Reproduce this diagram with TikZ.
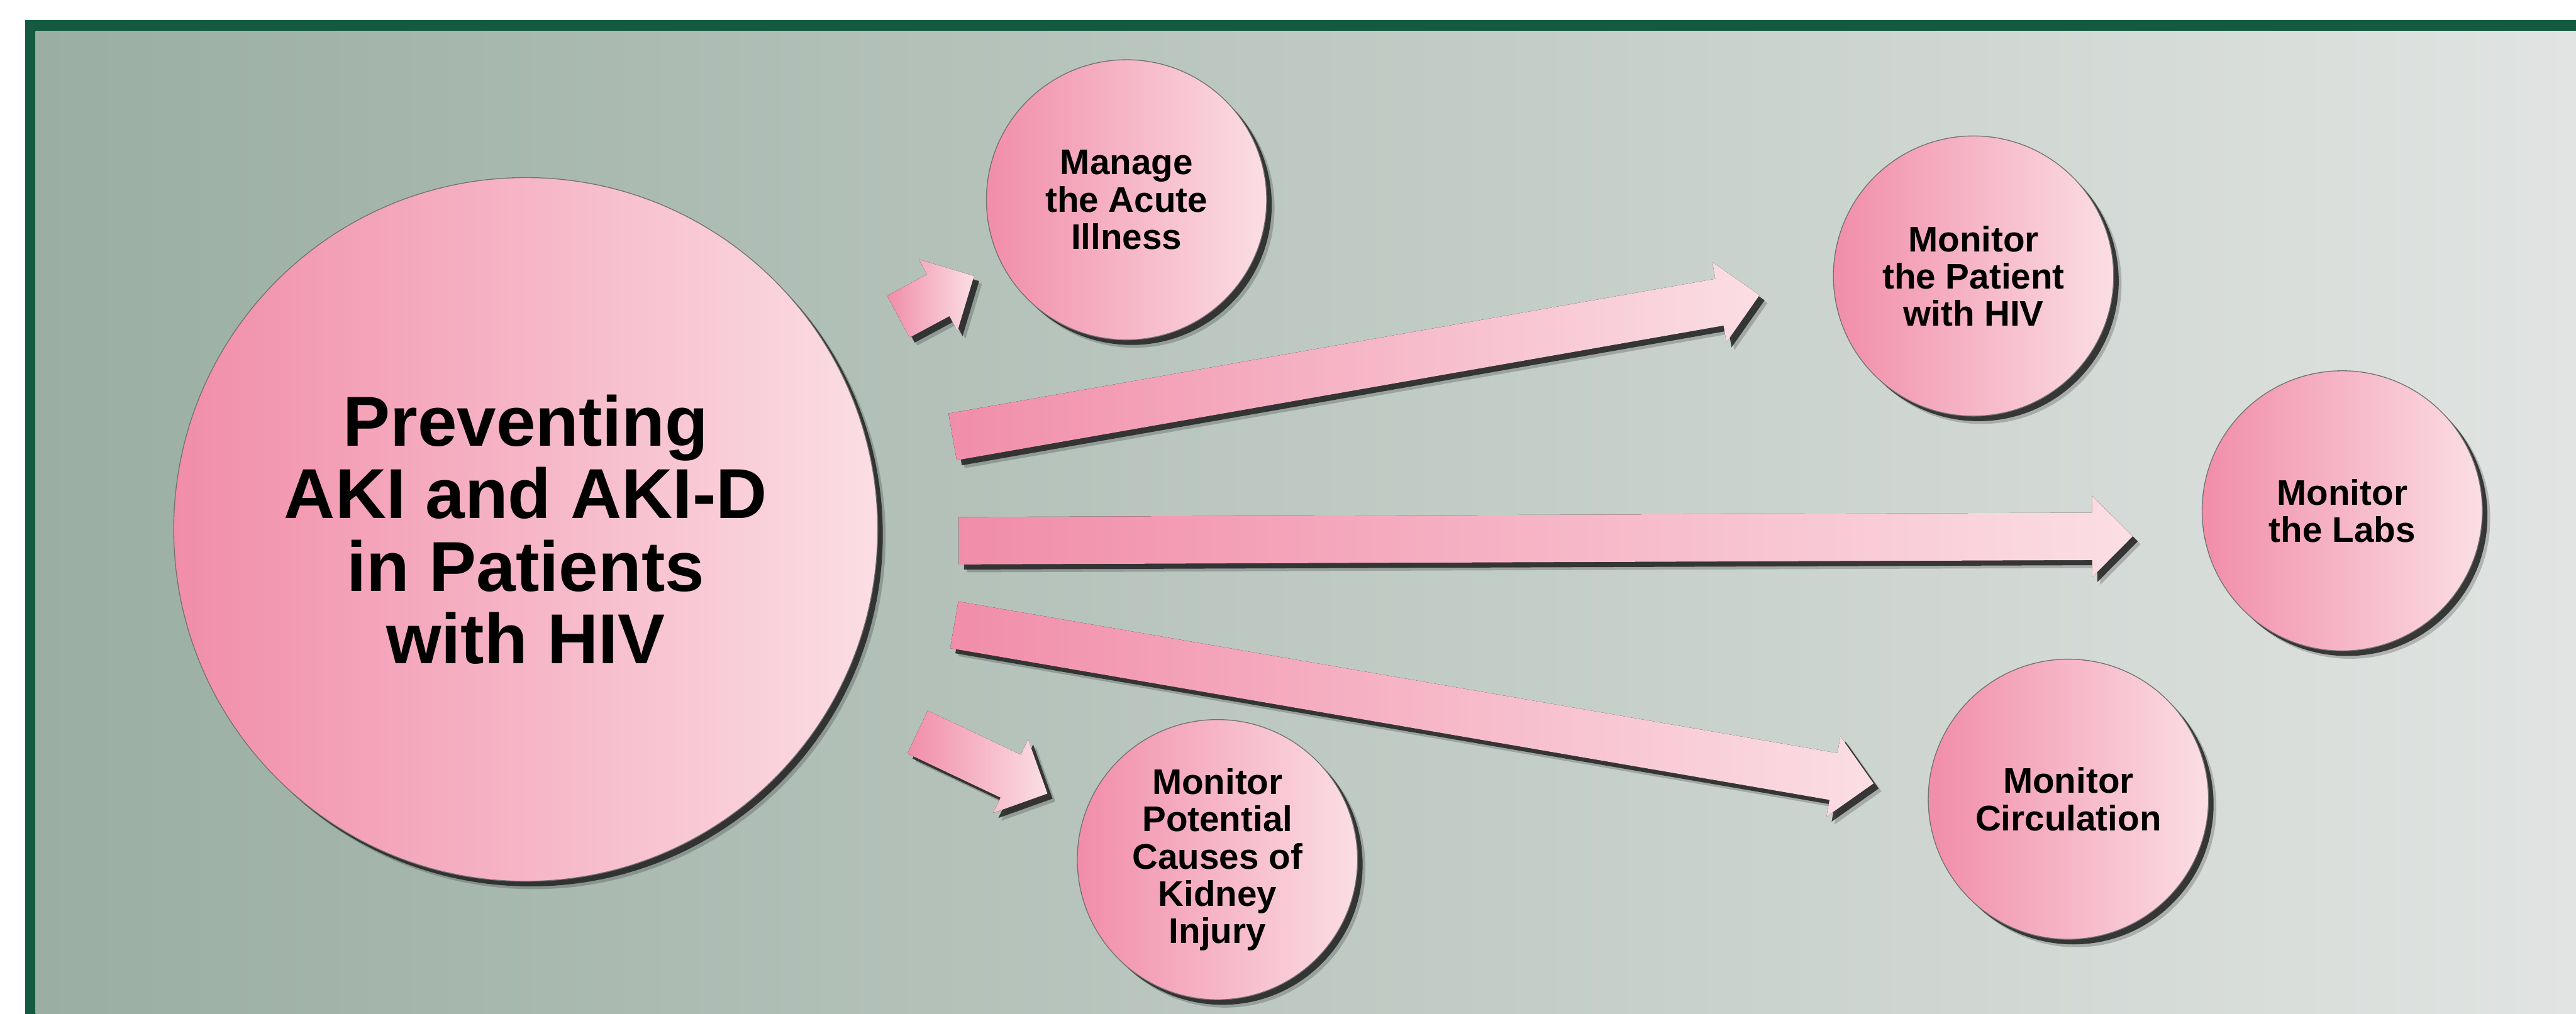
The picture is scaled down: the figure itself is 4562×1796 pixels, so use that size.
\documentclass[tikz,border=0pt]{standalone}
\usepackage{fontspec}
\setmainfont{Liberation Sans}
\usetikzlibrary{calc,shadows}
\definecolor{bgL}{HTML}{9AAEA3}
\definecolor{bgR}{HTML}{E1E4E2}
\definecolor{framegreen}{HTML}{135A40}
\definecolor{pinkL}{HTML}{F18DA9}
\definecolor{pinkR}{HTML}{FBDEE4}
\tikzset{
  softshadow/.style={
    drop shadow={shadow xshift=0.14cm,shadow yshift=-0.14cm,fill=black,opacity=0.2},
    drop shadow={shadow xshift=0.09cm,shadow yshift=-0.09cm,fill=black!85,opacity=0.88}},
  bubble/.style={circle, inner sep=0pt, left color=pinkL, right color=pinkR,
    draw=black!55, line width=0.015cm, softshadow, align=center,
    font=\bfseries\fontsize{17.93}{18.78}\selectfont, minimum size=4.96cm},
  hub/.style={bubble, minimum size=12.46cm,
    font=\bfseries\fontsize{35.6}{36.6}\selectfont},
  blockarrow/.style={left color=pinkL, right color=pinkR, softshadow}
}
\newcommand\drawblockarrow[2]{%
  \path ($(#2)!0.72cm!(#1)$) coordinate (#2-b);
  \fill[blockarrow] ($(#1)!0.42cm!90:(#2)$) -- ($(#2-b)!0.42cm!90:(#2)$)
    -- ($(#2-b)!0.72cm!90:(#2)$) -- (#2) -- ($(#2-b)!0.72cm!-90:(#2)$)
    -- ($(#2-b)!0.42cm!-90:(#2)$) -- ($(#1)!0.42cm!-90:(#2)$) -- cycle;
}
\begin{document}
\begin{tikzpicture}[x=0.01cm,y=-0.01cm]
\useasboundingbox (0,0) rectangle (4562,1796);
\fill[white] (0,0) rectangle (4562,1796);
\fill[framegreen] (44,36) rectangle (4562,1796);
\fill[left color=bgL, right color=bgR] (63,55) rectangle (4562,1796);

% arrow end points
\coordinate (t1) at (1591,561);  \coordinate (h1) at (1725,489);
\coordinate (t2) at (1687,774);  \coordinate (h2) at (3116,523);
\coordinate (t3) at (1698,958);  \coordinate (h3) at (3777,950);
\coordinate (t4) at (1690,1107); \coordinate (h4) at (3318,1388);
\coordinate (t5) at (1625,1297); \coordinate (h5) at (1855,1406);

\drawblockarrow{t1}{h1}
\drawblockarrow{t2}{h2}
\drawblockarrow{t3}{h3}
\drawblockarrow{t4}{h4}
\drawblockarrow{t5}{h5}

\node[hub] (hub) at (931,938) {Preventing\\AKI and AKI-D\\in Patients\\with HIV};
\node[bubble] (manage) at (1995,354) {Manage\\the Acute\\Illness};
\node[bubble] (patient) at (3495,489) {Monitor\\the Patient\\with HIV};
\node[bubble] (labs) at (4148,905) {Monitor\\the Labs};
\node[bubble] (circ) at (3663,1416) {Monitor\\Circulation};
\node[bubble] (causes) at (2156,1523) {Monitor\\Potential\\Causes of\\Kidney\\Injury};
\end{tikzpicture}
\end{document}
